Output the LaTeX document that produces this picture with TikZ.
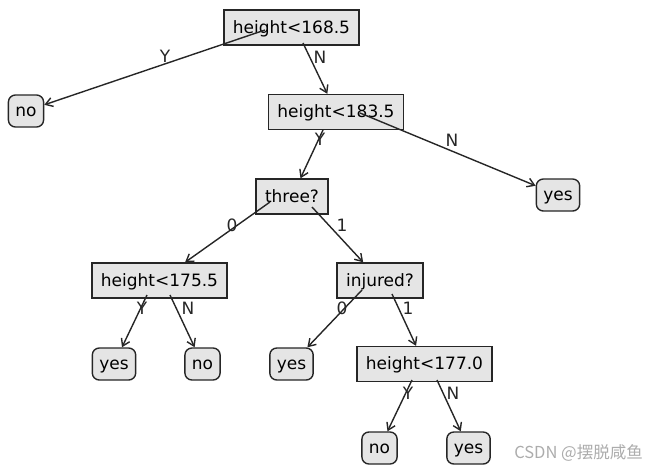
\documentclass[tikz,border=0pt]{standalone}
\usepackage{fontspec}
\setmainfont{DejaVu Sans}
\newfontfamily\cjk{Noto Sans CJK SC}
\usetikzlibrary{arrows.meta,calc}

\begin{document}
\begin{tikzpicture}[x=1pt,y=-1pt,
        font=\fontsize{17}{20}\selectfont,
        decision/.style={draw=black!85,line width=1.4pt,fill=gray!20,inner xsep=9pt,inner ysep=0pt,
            minimum height=35pt,text height=15pt,text depth=4pt},
        leaf/.style={draw=black!85,line width=1.4pt,fill=gray!20,rounded corners=7pt,inner xsep=7pt,
            inner ysep=0pt,minimum height=32pt,text height=15pt,text depth=4pt},
        arr/.style={-{Straight Barb[length=7pt,width=9pt]},line width=1.4pt,black!85},
        lbl/.style={inner sep=0pt,text=black!85}]
            \useasboundingbox (0,0) rectangle (662,471);

            % Draw the decision nodes
            \node[decision] (root) at (291.5,27.5) {height<168.5};
            \node[decision] (hA) at (336,112) {height<183.5};
            \node[decision] (three) at (292,196.5) {three?};
            \node[decision] (hB) at (159.5,280.5) {height<175.5};
            \node[decision] (injured) at (380,280.5) {injured?};
            \node[decision] (hC) at (424.5,364) {height<177.0};

            % Draw the leaves
            \node[leaf] (noA) at (26,111) {no};
            \node[leaf] (yesA) at (558,195) {yes};
            \node[leaf] (yesB) at (114,364) {yes};
            \node[leaf] (noB) at (202.5,364) {no};
            \node[leaf] (yesC) at (291.5,364) {yes};
            \node[leaf] (noC) at (379.5,448) {no};
            \node[leaf] (yesD) at (468.5,448) {yes};

            % Draw the branches
            \draw[arr] ($(root)+(-26.5,2.5)$) -- (noA);
            \draw[arr] ($(root)+(11.5,15.5)$) -- (hA);
            \draw[arr] ($(hA)+(24,1)$) -- (yesA);
            \draw[arr] ($(hA)+(-13,18)$) -- (three);
            \draw[arr] ($(three)+(-22,5.5)$) -- (hB);
            \draw[arr] ($(three)+(20,10.5)$) -- (injured);
            \draw[arr] ($(hB)+(-12.5,14.5)$) -- (yesB);
            \draw[arr] ($(hB)+(10.5,14.5)$) -- (noB);
            \draw[arr] ($(injured)+(-18,9.5)$) -- (yesC);
            \draw[arr] ($(injured)+(12,13.5)$) -- (hC);
            \draw[arr] ($(hC)+(-12.5,16)$) -- (noC);
            \draw[arr] ($(hC)+(12.5,16)$) -- (yesD);

            % Draw the branch labels
            \node[lbl] (lY1) at (165,56) {Y};
            \node[lbl] (lN1) at (320,57) {N};
            \node[lbl] (lN2) at (452,140) {N};
            \node[lbl] (lY2) at (320,139) {Y};
            \node[lbl] (l02) at (232,225) {0};
            \node[lbl] (l12) at (342,225) {1};
            \node[lbl] (lY3) at (142,308) {Y};
            \node[lbl] (lN3) at (188,308) {N};
            \node[lbl] (l03) at (342,308) {0};
            \node[lbl] (l13) at (408,308) {1};
            \node[lbl] (lY4) at (408,393) {Y};
            \node[lbl] (lN4) at (453,393) {N};

            % Watermark
            \node[text=gray!65,font=\cjk\fontsize{16.5}{19}\selectfont,inner sep=0pt] (mark) at (578.5,453) {CSDN @摆脱咸鱼};
        \end{tikzpicture}
\end{document}
